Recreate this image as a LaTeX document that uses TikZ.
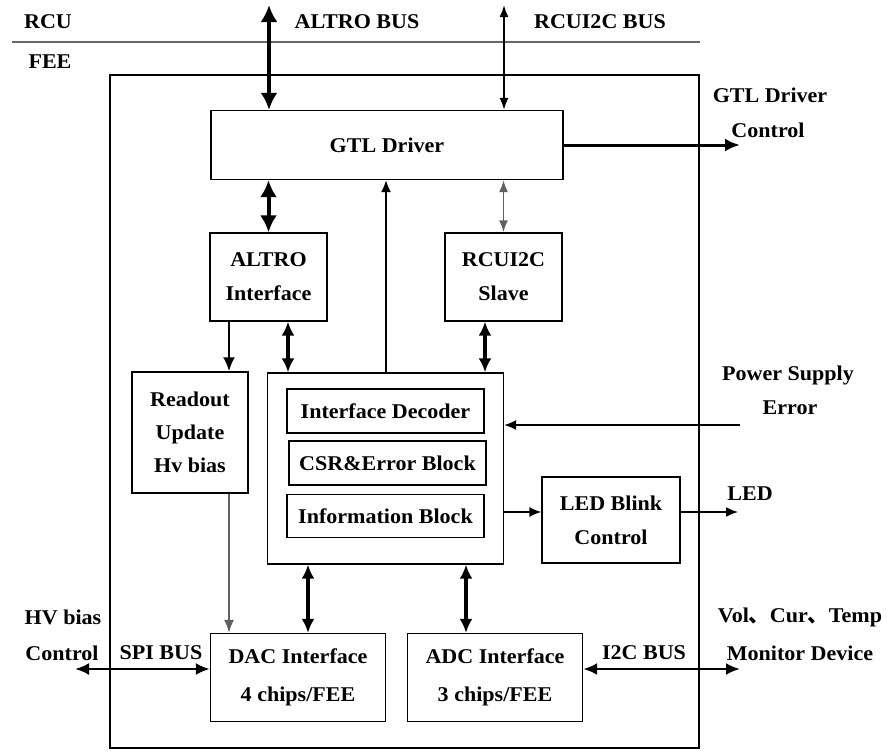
\documentclass[tikz,border=0pt]{standalone}
\usepackage{fontspec}
\setmainfont{Liberation Serif}[FakeStretch=1.05]
\newfontfamily\cjk{Noto Sans CJK SC}
\usetikzlibrary{arrows.meta}
\begin{document}
\begin{tikzpicture}[x=1pt,y=-1pt,
  font=\fontsize{21}{34}\selectfont\bfseries,
  box/.style={draw, line width=1.3pt, inner sep=0pt, align=center},
  lbl/.style={inner sep=0pt, align=center},
  bigdbl/.style={line width=4pt, {Latex[length=17pt,width=17pt]}-{Latex[length=17pt,width=17pt]}},
  meddbl/.style={line width=3.5pt, {Latex[length=14pt,width=13pt]}-{Latex[length=14pt,width=13pt]}},
  busdbl/.style={line width=2.6pt, {Latex[length=14pt,width=12pt]}-{Latex[length=14pt,width=12pt]}},
  thindbl/.style={line width=1.8pt, {Latex[length=12pt,width=9pt]}-{Latex[length=12pt,width=9pt]}},
  thinone/.style={line width=1.5pt, -{Latex[length=12pt,width=10pt]}},
  medone/.style={line width=2.5pt, -{Latex[length=14pt,width=12pt]}},
]
\useasboundingbox (0,0) rectangle (891,755);

% separator and labels
\coordinate (sepL) at (12,42);
\coordinate (sepR) at (700,42);
\draw[gray!80!black, line width=1.5pt] (sepL) -- (sepR);
\node[lbl] (rcu) at (48,22) {RCU};
\node[lbl] (feel) at (50,62) {FEE};
\node[lbl] (altrobus) at (357,22) {ALTRO BUS};
\node[lbl] (rcubus) at (600,22) {RCUI2C BUS};

% outer FEE box
\node[draw, line width=1.3pt, minimum width=589pt, minimum height=673pt, inner sep=0pt] (fee) at (404.5,411.5) {};

% blocks
\node[box, minimum width=352pt, minimum height=69pt] (gtl) at (387,145) {GTL Driver};
\node[box, minimum width=117pt, minimum height=88pt] (altro) at (268.5,277) {ALTRO\\Interface};
\node[box, minimum width=117pt, minimum height=88pt] (slave) at (503.5,277) {RCUI2C\\Slave};
\node[box, minimum width=116pt, minimum height=121pt, font=\fontsize{21}{33}\selectfont\bfseries] (readout) at (190,432.5) {Readout\\Update\\Hv bias};
\node[box, minimum width=236pt, minimum height=191pt] (ctrl) at (385.5,468.5) {};
\node[box, minimum width=197pt, minimum height=44pt] (dec) at (385.5,411) {Interface Decoder};
\node[box, minimum width=197pt, minimum height=44pt] (csr) at (387.5,463) {CSR\&Error Block};
\node[box, minimum width=197pt, minimum height=43pt] (info) at (385.5,516) {Information Block};
\node[box, minimum width=138pt, minimum height=86pt] (led) at (611,520) {LED Blink\\Control};
\node[box, minimum width=175pt, minimum height=88pt, font=\fontsize{21}{38}\selectfont\bfseries] (dac) at (298,677.5) {DAC Interface\\4 chips/FEE};
\node[box, minimum width=175pt, minimum height=88pt, font=\fontsize{21}{38}\selectfont\bfseries] (adc) at (495,677.5) {ADC Interface\\3 chips/FEE};

% outside labels
\node[lbl] (gtlc1) at (770,95) {GTL Driver};
\node[lbl] (gtlc2) at (768,130) {Control};
\node[lbl] (ps1) at (788,375) {Power Supply};
\node[lbl] (ps2) at (790,408) {Error};
\node[lbl] (ledl) at (750,494) {LED};
\node[lbl] (hv1) at (63,617) {HV bias};
\node[lbl] (hv2) at (62,653) {Control};
\node[lbl] (spi) at (161,653) {SPI BUS};
\node[lbl] (i2c) at (644,653) {I2C BUS};
\node[lbl] (mon1) at (800,617) {Vol{\cjk 、}Cur{\cjk 、}Temp};
\node[lbl] (mon2) at (800,653) {Monitor Device};

% free ends
\coordinate (altrotop) at (269,5);
\coordinate (rcutop) at (504,5);
\coordinate (gtlout) at (740,145);
\coordinate (psin) at (740,425);
\coordinate (ledy) at (600,512);
\coordinate (ledout) at (738,512);
\coordinate (spiend) at (75,669);
\coordinate (i2cend) at (740,669);

% connectors
\draw[bigdbl] (altrotop) -- (altrotop |- gtl.north);
\draw[thindbl] (rcutop) -- (rcutop |- gtl.north);
\draw[line width=3pt, -{Latex[length=15pt,width=13pt]}] (gtl.east) -- (gtlout);
\draw[bigdbl] (gtl.south -| altro) -- (altro.north);
\draw[thindbl, draw=gray!75!black] (gtl.south -| slave) -- (slave.north);
\draw[thinone] (ctrl.north -| 386,0) -- (gtl.south -| 386,0);
\draw[medone] (altro.south -| readout.center) ++(39,0) coordinate (aro) (aro) -- (aro |- readout.north);
\draw[meddbl] (altro.south -| 288,0) -- (ctrl.north -| 288,0);
\draw[meddbl] (slave.south -| 485,0) -- (ctrl.north -| 485,0);
\draw[thinone] (psin) -- (psin -| ctrl.east);
\draw[thinone] (ledy -| ctrl.east) -- (ledy -| led.west);
\draw[thinone] (ledy -| led.east) -- (ledout);
\draw[line width=1.8pt, draw=gray!75!black, -{Latex[length=13pt,width=10pt]}] (readout.south -| aro) -- (dac.north -| aro);
\draw[meddbl] (ctrl.south -| 308,0) -- (dac.north -| 308,0);
\draw[meddbl] (ctrl.south -| 466,0) -- (adc.north -| 466,0);
\draw[busdbl] (spiend) -- (spiend -| dac.west);
\draw[busdbl] (adc.east |- i2cend) -- (i2cend);
\end{tikzpicture}
\end{document}
